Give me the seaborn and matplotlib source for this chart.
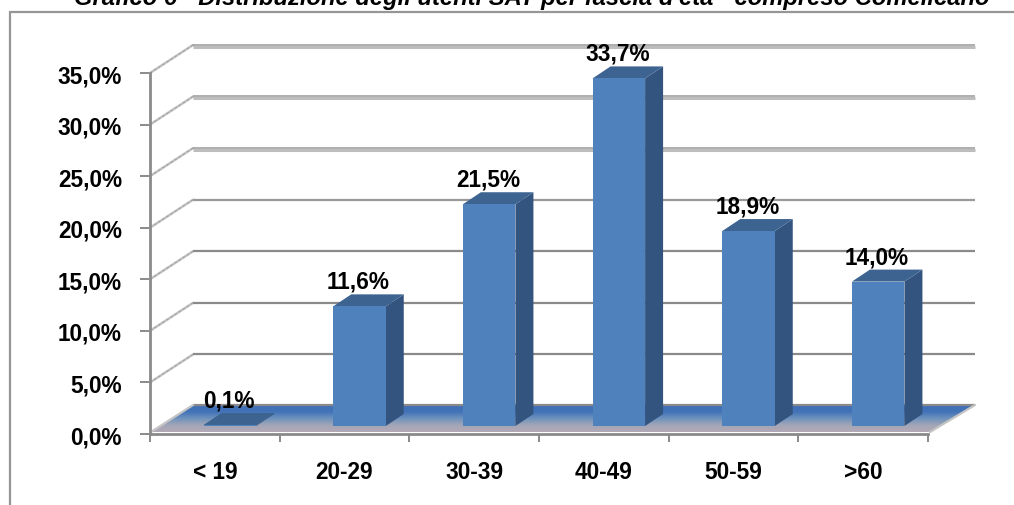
import matplotlib
matplotlib.use("Agg")
import matplotlib.pyplot as plt
import numpy as np
import pandas as pd
import seaborn as sns
from matplotlib.patches import Polygon, Rectangle
from matplotlib.transforms import IdentityTransform

# Age bands and share of SAT users (percent)
age_bands = ["< 19", "20-29", "30-39", "40-49", "50-59", ">60"]
user_share = [0.1, 11.6, 21.5, 33.7, 18.9, 14.0]
y_ticks = [0, 5, 10, 15, 20, 25, 30, 35]
chart_title = "Grafico 6 - Distribuzione degli utenti SAT per fascia d'età - compreso Comelicano"

W, H = 1014, 506
FRONT, SIDE, TOP = "#4f81bd", "#345480", "#3d6391"
AXIS_GREY, WALL_LIGHT = "#8a8a8a", "#c4c4c4"


def it_pct(v):
    return f"{v:.1f}".replace(".", ",") + "%"


def box(x0, x1, y_top, y_bottom):
    return [x0 / W, 1 - y_bottom / H, (x1 - x0) / W, (y_bottom - y_top) / H]


sns.set_theme(style="white")
plt.rcParams["font.family"] = ["Liberation Sans", "DejaVu Sans"]
plt.rcParams["font.weight"] = "bold"

fig = plt.figure(figsize=(W / 100, H / 100), dpi=100, facecolor="white")
px = IdentityTransform()

# Outer chart frame, running off the right and bottom of the image
fig.add_artist(Rectangle((9.5, -20), W + 40, H + 20 - 12.5, transform=px, fill=False,
                         edgecolor="#969696", linewidth=1.6))

# The heading sits right at the top edge of the image
fig.text(532 / W, 1 - 5.5 / H, chart_title, ha="center", va="baseline", style="italic",
         fontsize=17.1, color="black")

# Scale axes: the front plane of the fake 3D box
ax = fig.add_axes(box(150, 928, 74, 435))
ax.set_xlim(-0.5, 5.5)
ax.set_ylim(0, 35)
ax.patch.set_alpha(0)
sns.despine(ax=ax, top=True, right=True)
for s in ("left", "bottom"):
    ax.spines[s].set_color(AXIS_GREY)
    ax.spines[s].set_linewidth(2)
ax.set_yticks(y_ticks, [it_pct(v) for v in y_ticks])
ax.set_xticks(np.arange(-0.5, 6), [""] * 7, minor=False)
ax.set_xticks(np.arange(6), age_bands, minor=True)
ax.tick_params(axis="y", length=7.2, width=1.4, color=AXIS_GREY, labelsize=16.3, pad=13,
               left=True, labelcolor="black")
ax.tick_params(axis="x", which="major", length=5.8, width=1.4, color=AXIS_GREY, bottom=True)
ax.tick_params(axis="x", which="minor", length=0, labelsize=16.3, pad=19, labelcolor="black")

# Wall gridlines sheared back by the box depth; the upper ones carry a pale band below
DEPTH_X, DEPTH_Y = 43, 28
to_px = ax.transData
for v in y_ticks[1:]:
    x0, y0 = to_px.transform((-0.5, v))
    x1, _ = to_px.transform((5.5, v))
    back_x = (x0 + DEPTH_X, x1 + DEPTH_X + 4)
    back_y = y0 + DEPTH_Y
    ax.plot([x0, x0 + DEPTH_X], [y0, back_y], transform=px, clip_on=False,
            color=WALL_LIGHT, lw=1.8, zorder=1)
    ax.plot([x0, x0 + DEPTH_X], [y0, back_y], transform=px, clip_on=False,
            color="#a0a0a0", lw=0.7, ls=(0, (3, 2)), zorder=1.1)
    if v >= 25:
        ax.plot(back_x, [back_y - 1.6] * 2, transform=px, clip_on=False,
                color="#bdbdbd", lw=2.2, zorder=1, solid_capstyle="butt")
        ax.plot(back_x, [back_y + 0.3] * 2, transform=px, clip_on=False,
                color="#999999", lw=1.1, zorder=1.2, solid_capstyle="butt")
    else:
        ax.plot(back_x, [back_y] * 2, transform=px, clip_on=False,
                color="#999999" if v == 20 else AXIS_GREY, lw=1.6, zorder=1.2,
                solid_capstyle="butt")

# Floor with vertical blue to grey gradient
x0, y0 = to_px.transform((-0.5, 0))
x1, _ = to_px.transform((5.5, 0))
floor_pts = [(x0 + 2, y0 + 2), (x1 + 2, y0 + 2), (x1 + DEPTH_X + 4, y0 + DEPTH_Y + 1),
             (x0 + DEPTH_X, y0 + DEPTH_Y + 1)]
gradient = np.linspace(0, 1, 64)[:, None]
cmap = matplotlib.colors.LinearSegmentedColormap.from_list(
    "floor", ["#b3a9b7", "#a3a6b6", "#6f93bd", "#4273b8", "#3f6fb5"])
img = ax.imshow(gradient, origin="lower", aspect="auto", cmap=cmap, transform=px,
                extent=(x0, x1 + DEPTH_X + 4, y0 + 2, y0 + DEPTH_Y + 1), zorder=1.5)
ax.set_xlim(-0.5, 5.5)
ax.set_ylim(0, 35)
floor_clip = Polygon(floor_pts, transform=px, fill=False, edgecolor="none")
ax.add_patch(floor_clip)
floor_clip.set_clip_on(False)
img.set_clip_path(floor_clip)
img.set_clip_box(fig.bbox)
ax.plot([x0 + DEPTH_X, x1 + DEPTH_X + 4], [y0 + DEPTH_Y + 1] * 2, transform=px, clip_on=False,
        color=AXIS_GREY, lw=1.6, zorder=1.6, solid_capstyle="butt")
ax.plot([x1 + 2, x1 + DEPTH_X + 4], [y0 + 2, y0 + DEPTH_Y + 1], transform=px, clip_on=False,
        color=WALL_LIGHT, lw=1.6, zorder=1.6)
ax.plot([x0 + 1, x0 + DEPTH_X], [y0 + 2, y0 + DEPTH_Y + 1], transform=px, clip_on=False,
        color=WALL_LIGHT, lw=1.6, zorder=1.6)

# Bars sit mid-depth on the floor, in a second axes nudged in and up
bar_ax = fig.add_axes(box(165, 943, 66, 427))
df = pd.DataFrame({"age": age_bands, "share": user_share})
sns.barplot(data=df, x="age", y="share", ax=bar_ax, color=FRONT, saturation=1, width=0.405,
            order=age_bands, linewidth=0, zorder=3)
bar_ax.set_xlim(-0.5, 5.5)
bar_ax.set_ylim(0, 35)
bar_ax.axis("off")
bar_ax.patch.set_alpha(0)

BAR_DX, BAR_DY = 18, 12
for bar, v in zip(list(bar_ax.patches), user_share):
    (bx0, by0), (bx1, by1) = bar_ax.transData.transform(
        [(bar.get_x(), 0), (bar.get_x() + bar.get_width(), v)])
    bar_ax.add_patch(Polygon([(bx1, by0), (bx1 + BAR_DX, by0 + BAR_DY), (bx1 + BAR_DX, by1 + BAR_DY), (bx1, by1)],
                             transform=px, facecolor=SIDE, edgecolor="none", zorder=2.5, clip_on=False))
    bar_ax.add_patch(Polygon([(bx0, by1), (bx0 + BAR_DX, by1 + BAR_DY), (bx1 + BAR_DX, by1 + BAR_DY), (bx1, by1)],
                             transform=px, facecolor=TOP, edgecolor="none", zorder=2.6, clip_on=False))
    bar_ax.annotate(it_pct(v), (bar.get_x() + bar.get_width() / 2, v), xytext=(-1, 25),
                    textcoords="offset pixels", ha="center", va="center", fontsize=16.3,
                    color="black", zorder=5, annotation_clip=False)

fig.savefig("out.png", dpi=100, facecolor="white")
